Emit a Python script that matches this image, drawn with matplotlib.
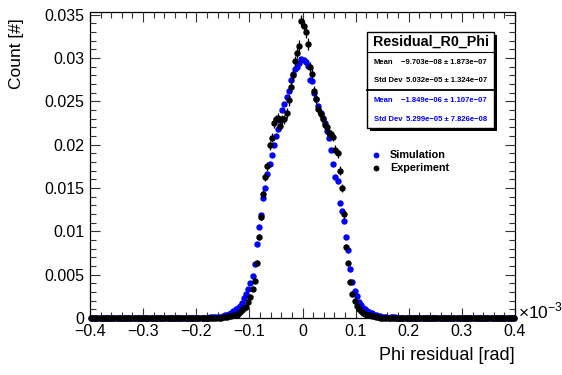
import numpy as np
import matplotlib
matplotlib.use("Agg")
import matplotlib.pyplot as plt
from matplotlib.patches import Rectangle
from matplotlib.lines import Line2D
from matplotlib.ticker import MultipleLocator, FuncFormatter

plt.rcParams['font.family'] = ['Liberation Sans', 'DejaVu Sans']
plt.rcParams['mathtext.fontset'] = 'custom'
plt.rcParams['mathtext.rm'] = 'Liberation Sans'

# ---------------- data (x in units of 1e-3 rad) ----------------
x_range = (-0.4, 0.4)
n_bins = 200

sim_left_tail = [0.0] * 40 + [0.00002, 0.0, 0.00002, 0.0, 0.00002, 0.00002, 0.0, 0.00003, 0.00002, 0.00003,
                              0.00003, 0.00004, 0.00003, 0.00004, 0.00005, 0.00005, 0.00006, 0.00007, 0.00008, 0.00009]
sim_core = [0.0001, 0.00015, 0.0002, 0.0003, 0.0004, 0.0005, 0.0006, 0.0008, 0.0010, 0.0012,
            0.0014, 0.0017, 0.0023, 0.0028, 0.0033, 0.0040, 0.0048, 0.0062, 0.0085, 0.0105,
            0.0119, 0.0138, 0.0150, 0.0166, 0.0178, 0.0188, 0.0200, 0.0210, 0.0218, 0.0228,
            0.0240, 0.0247, 0.0255, 0.0262, 0.0275, 0.0282, 0.0287, 0.0290, 0.0294, 0.0299,
            0.0298, 0.0295, 0.0291, 0.0274, 0.0273, 0.0260, 0.0253, 0.0244, 0.0237, 0.0231,
            0.0225, 0.0216, 0.0208, 0.0194, 0.0178, 0.0163, 0.0158, 0.0133, 0.0124, 0.0112,
            0.0094, 0.0078, 0.0057, 0.0042, 0.0031, 0.0025, 0.0018, 0.0015, 0.0012, 0.0010,
            0.0008, 0.0007, 0.0006, 0.0004, 0.0003, 0.0002, 0.0002, 0.00015, 0.0001, 0.0001,
            0.00005]
sim_right_tail = [0.00008, 0.00007, 0.00006, 0.00005, 0.00005, 0.00004, 0.00004, 0.00003, 0.00003, 0.00003,
                  0.00002, 0.00002, 0.00002, 0.0, 0.00002, 0.0, 0.00002, 0.0, 0.0, 0.00002] + [0.0] * 39

exp_left_tail = [0.0] * 40 + [0.0, 0.00002, 0.0, 0.00002, 0.0, 0.00002, 0.00002, 0.0, 0.00002, 0.00002,
                              0.00002, 0.00003, 0.00002, 0.00003, 0.00003, 0.00003, 0.00004, 0.00004, 0.00004, 0.00005]
exp_core = [0.00005, 0.00005, 0.0001, 0.0001, 0.00015, 0.0002, 0.0002, 0.0003, 0.0004, 0.0005,
            0.0007, 0.0009, 0.0011, 0.0013, 0.0018, 0.0024, 0.0034, 0.0043, 0.0064, 0.0093,
            0.0117, 0.0143, 0.0163, 0.0175, 0.0199, 0.0208, 0.0225, 0.0229, 0.0231, 0.0222,
            0.0229, 0.0229, 0.0236, 0.0251, 0.0267, 0.0280, 0.0296, 0.0306, 0.0314, 0.0343,
            0.0337, 0.0330, 0.0316, 0.0289, 0.0282, 0.0262, 0.0253, 0.0241, 0.0235, 0.0229,
            0.0223, 0.0220, 0.0213, 0.0212, 0.0209, 0.0194, 0.0190, 0.0170, 0.0150, 0.0120,
            0.0082, 0.0063, 0.0042, 0.0028, 0.0020, 0.0014, 0.0010, 0.0008, 0.0006, 0.0005,
            0.0004, 0.0003, 0.0002, 0.0002, 0.00015, 0.0001, 0.00005, 0.00005, 0.00005, 0.00005,
            0.00005]
exp_right_tail = [0.00004, 0.00004, 0.00003, 0.00003, 0.00003, 0.00002, 0.00002, 0.00002, 0.0, 0.00002,
                  0.0, 0.00002, 0.0, 0.0, 0.00002, 0.0, 0.0, 0.0, 0.0, 0.0] + [0.0] * 39

sim_values = np.array(sim_left_tail + sim_core + sim_right_tail)
exp_values = np.array(exp_left_tail + exp_core + exp_right_tail)
n_entries_exp = 72000  # effective entries for Poisson errors

series_labels = ["Simulation", "Experiment"]
stats_title = "Residual_R0_Phi"
stats_exp = [("Mean", "\u22129.703e\u221208 \u00b1 1.873e\u221207"),
             ("Std Dev", "5.032e\u221205 \u00b1 1.324e\u221207")]
stats_sim = [("Mean", "\u22121.849e\u221206 \u00b1 1.107e\u221207"),
             ("Std Dev", "5.299e\u221205 \u00b1 7.826e\u221208")]

# ---------------- figure ----------------
W, H = 562, 375
fig = plt.figure(figsize=(W / 100, H / 100), dpi=100)


def px(x, y):
    return x / W, 1 - y / H


L, R, T, B = 90, 515, 12, 318
ax = fig.add_axes([L / W, 1 - B / H, (R - L) / W, (B - T) / H])

edges = np.linspace(x_range[0], x_range[1], n_bins + 1)
centers = 0.5 * (edges[:-1] + edges[1:])
half_w = 0.5 * (edges[1] - edges[0])
exp_err = np.sqrt(exp_values / n_entries_exp)

ax.plot(centers, sim_values, 'o', color='#0000ff', ms=4.6, mec='none', zorder=3, clip_on=False)
ax.errorbar(centers, exp_values, yerr=exp_err, xerr=half_w, fmt='o', color='black',
            ms=4.6, mec='none', elinewidth=0.9, capsize=0, zorder=4, clip_on=False)

ax.set_xlim(*x_range)
ax.set_ylim(0, 0.0353)

ax.xaxis.set_major_locator(MultipleLocator(0.1))
ax.xaxis.set_minor_locator(MultipleLocator(0.02))
ax.yaxis.set_major_locator(MultipleLocator(0.005))
ax.yaxis.set_minor_locator(MultipleLocator(0.001))


def fmt(v, pos):
    s = f"{v:.3f}".rstrip('0').rstrip('.')
    if s in ("-0", "0"):
        return "0"
    return s.replace('-', '\u2212')


ax.xaxis.set_major_formatter(FuncFormatter(fmt))
ax.yaxis.set_major_formatter(FuncFormatter(fmt))
ax.tick_params(which='both', direction='in', top=True, right=True, labelsize=11.5, width=0.8, color='#333333')
ax.tick_params(which='major', length=7.5, pad=4)
ax.tick_params(which='minor', length=4)
for s in ax.spines.values():
    s.set_linewidth(0.9)

fig.text(*px(16, 18), "Count [#]", rotation=90, ha='center', va='top', fontsize=12.5)
fig.text(*px(515, 355), "Phi residual [rad]", ha='right', va='center', fontsize=13)
fig.text(*px(518, 318), r"$\times10^{-3}$", ha='left', va='baseline', fontsize=12.5)

# stats boxes
bx0, bx1, by0, by1, bmid = 367, 494, 32, 128, 90
shadow = Rectangle(px(bx0 + 3, by1 + 3), (bx1 - bx0) / W, (by1 - by0) / H, transform=fig.transFigure,
                   facecolor='black', edgecolor='none', zorder=5)
box = Rectangle(px(bx0, by1), (bx1 - bx0) / W, (by1 - by0) / H, transform=fig.transFigure,
                facecolor='white', edgecolor='black', lw=1.0, zorder=6)
fig.add_artist(shadow)
fig.add_artist(box)
for yy, lw in ((51.7, 0.8), (bmid, 1.3)):
    fig.add_artist(Line2D([bx0 / W, bx1 / W], [1 - yy / H] * 2, color='black', lw=lw, zorder=7))
fig.text(*px((bx0 + bx1) / 2, 42), stats_title, ha='center', va='center', fontsize=10.3,
         fontweight='bold', zorder=8)
for (name, val), yy in zip(stats_exp, (62, 81)):
    fig.text(*px(374, yy), name, ha='left', va='center', fontsize=5.5, fontweight='bold', zorder=8)
    fig.text(*px(487, yy), val, ha='right', va='center', fontsize=5.5, fontweight='bold', zorder=8)
for (name, val), yy in zip(stats_sim, (100, 119.5)):
    fig.text(*px(374, yy), name, ha='left', va='center', fontsize=5.5, fontweight='bold',
             color='#0000ff', zorder=8)
    fig.text(*px(487, yy), val, ha='right', va='center', fontsize=5.5, fontweight='bold',
             color='#0000ff', zorder=8)

# legend
for lab, col, yy in zip(series_labels, ('#0000ff', 'black'), (155, 168)):
    fig.add_artist(Line2D([376 / W], [1 - yy / H], marker='o', color=col, ms=4.2, mec='none', lw=0))
    fig.text(*px(390, yy), lab, ha='left', va='center', fontsize=7.8, fontweight='bold')

fig.savefig("out.png", dpi=100)
